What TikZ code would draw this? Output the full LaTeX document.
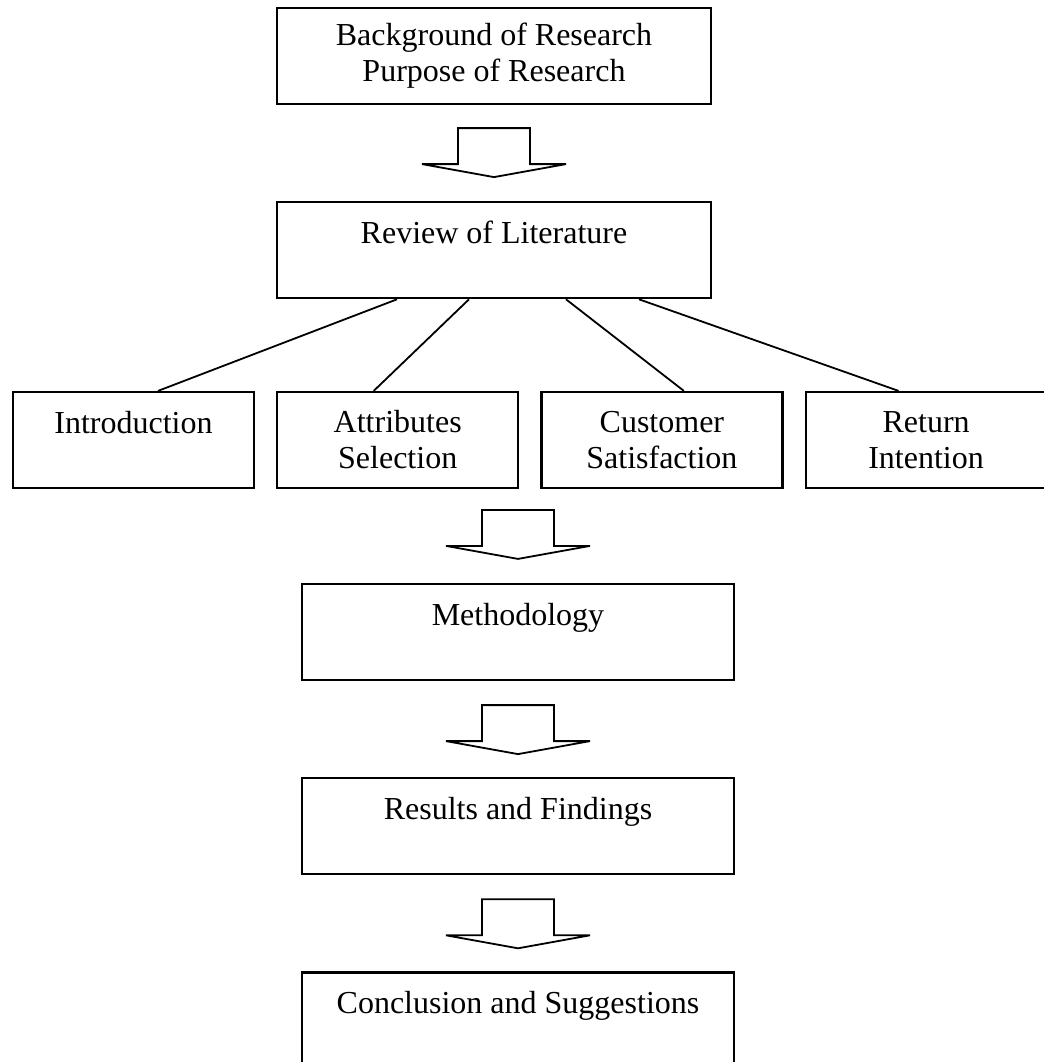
\documentclass[tikz,border=0pt]{standalone}
\usepackage{fontspec}
\setmainfont{Liberation Serif}
\usetikzlibrary{positioning, calc}

\begin{document}
\begin{tikzpicture}[
    x=0.5pt, y=-0.5pt, font=\fontsize{16}{18}\selectfont,
    box/.style={draw, line width=1.1pt, align=center, inner sep=0pt,
                minimum width=216pt, minimum height=48pt},
    wide/.style={box, minimum width=217pt},
    leaf/.style={box, minimum width=120.5pt},
    link/.style={line width=0.9pt},
    node distance=48pt,
    downarr/.pic={
      \draw[line width=0.9pt, line join=miter]
        (-36,0) -- (-36,36) -- (-72,36) -- (0,49) -- (72,36) -- (36,36) -- (36,0) -- cycle;
    },
  ]
    \useasboundingbox (0,0) rectangle (1044,1062);

    % =================== top ===================
    \node[wide] (bg)  at (494,56) {Background of Research\\Purpose of Research};
    \node[wide, below=of bg] (rev) {Review of Literature\\\mbox{}};
    \pic at ($(bg.south)+(0,23)$) {downarr};

    % =================== literature topics ===================
    \node[leaf] (intro) at (133.5,440) {Introduction\\\mbox{}};
    \node[leaf, right=10.5pt of intro] (attr) {Attributes\\Selection};
    \node[leaf, right=10.5pt of attr]  (cust) {Customer\\Satisfaction};
    \node[leaf, right=10.5pt of cust]  (ret)  {Return\\Intention};
    \draw[link] ($(rev.south)+(-97,0)$) -- ($(intro.north)+(24.5,0)$);
    \draw[link] ($(rev.south)+(-25,0)$) -- ($(attr.north)+(-24,0)$);
    \draw[link] ($(rev.south)+(72,0)$)  -- ($(cust.north)+(22,0)$);
    \draw[link] ($(rev.south)+(145,0)$) -- ($(ret.north)+(-27.5,0)$);

    % =================== method to conclusion ===================
    \node[box] (meth) at (518,632) {Methodology\\\mbox{}};
    \node[box, below=of meth] (res)  {Results and Findings\\\mbox{}};
    \node[box, below=of res]  (conc) {Conclusion and Suggestions\\\mbox{}};
    \pic at ($(meth.north)+(0,-73)$) {downarr};
    \pic at ($(meth.south)+(0,24)$)  {downarr};
    \pic at ($(res.south)+(0,24)$)   {downarr};
  \end{tikzpicture}
\end{document}
